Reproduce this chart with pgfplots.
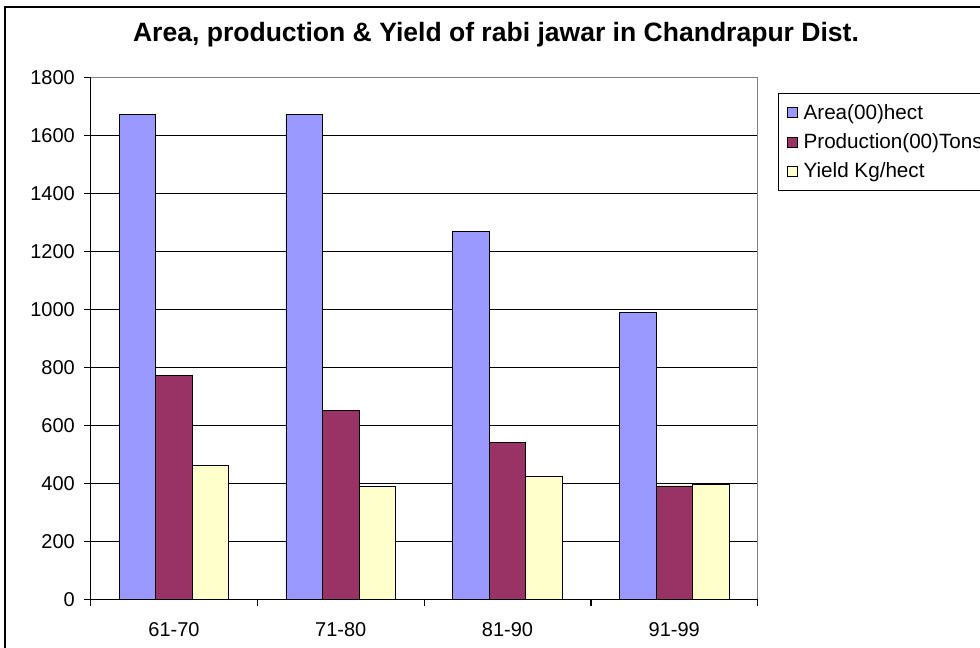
\documentclass[border=0pt]{standalone}
\usepackage{pgfplots}
\pgfplotsset{compat=1.18}
\usepackage{fontspec}
\setmainfont{Liberation Sans}
\definecolor{areac}{HTML}{9999FF}
\definecolor{prodc}{HTML}{993366}
\definecolor{yieldc}{HTML}{FFFFCC}
\definecolor{framegray}{HTML}{808080}
\begin{document}
\begin{tikzpicture}
\begin{axis}[
  name=ax,
  at={(68.0pt,36.5pt)}, anchor=south west,
  scale only axis, width=500.25pt, height=391.4pt,
  ybar=0pt, bar width=27.4pt,
  xmin=-0.5, xmax=3.5, ymin=0, ymax=1800,
  xtick={0,1,2,3}, xticklabels={61-70,71-80,81-90,91-99},
  minor xtick={-0.5,0.5,1.5,2.5,3.5},
  ytick={0,200,...,1800},
  axis x line*=bottom, axis y line*=left,
  axis line style={black, line width=0.9pt, -},
  tick align=outside,
  major x tick style={draw=none},
  major tick length=5pt, minor tick length=5pt,
  every tick/.style={black, line width=0.9pt},
  ymajorgrids, grid style={black, line width=0.8pt},
  /pgf/number format/assume math mode=true,
  /pgf/number format/1000 sep={},
  tick label style={font=\fontsize{15}{18}\selectfont},
  yticklabel style={xshift=-3.4pt},
  xticklabel style={yshift=-9pt},
  legend style={at={(1.0305,0.970)}, anchor=north west, draw=black, line width=0.75pt,
    font=\fontsize{15.5}{18}\selectfont, cells={anchor=west}, row sep=5.25pt,
    inner xsep=6pt, inner ysep=6pt},
  legend image code/.code={\draw[#1, line width=0.6pt] (0pt,-3.75pt) rectangle (7.5pt,3.75pt); \path[draw=none, fill=none] (0pt,0pt) -- (10.5pt,0pt);},
]
\addplot[fill=areac, draw=black, line width=0.6pt] coordinates {(0,1673) (1,1673) (2,1268) (3,988)};
\addplot[fill=prodc, draw=black, line width=0.6pt] coordinates {(0,771) (1,650) (2,540) (3,391)};
\addplot[fill=yieldc, draw=black, line width=0.6pt] coordinates {(0,462) (1,391) (2,423) (3,395)};
\legend{Area(00)hect, Production(00)Tons, Yield Kg/hect}
\end{axis}
\draw[framegray, line width=0.9pt] (ax.north west) -- (ax.north east) -- (ax.south east);
\node[anchor=base, font=\bfseries\fontsize{19.9}{23}\selectfont] at (372pt,454.5pt)
  {Area, production \& Yield of rabi jawar in Chandrapur Dist.};
\draw[black, line width=1.5pt] (3.75pt,-20pt) rectangle (760pt,480.75pt);
\pgfresetboundingbox
\path[use as bounding box] (0,0) rectangle (735pt,486pt);
\end{tikzpicture}
\end{document}
